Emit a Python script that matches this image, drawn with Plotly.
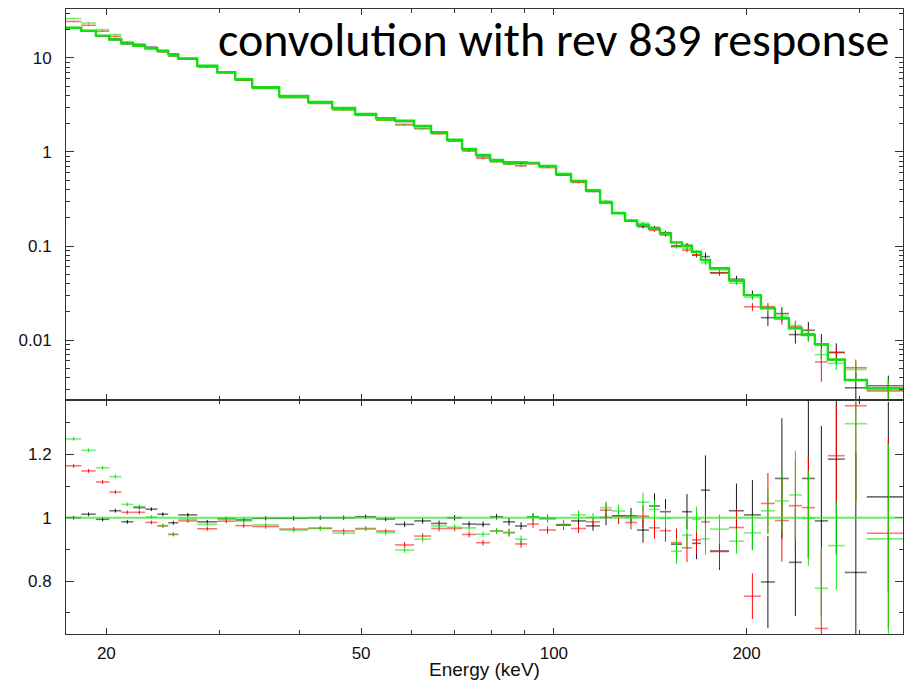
import numpy as np
import plotly.graph_objects as go
from plotly.subplots import make_subplots

# ---------------- data ----------------
bin_edges_kev = [17.30, 18.28, 19.26, 20.22, 21.11, 22.04, 23.01, 24.03, 24.99, 25.91,
                 27.74, 29.81, 31.80, 33.80, 37.24, 41.34, 45.07, 48.93, 52.78, 56.51,
                 60.50, 64.31, 68.12, 71.89, 75.60, 79.50, 83.30, 86.98, 90.81, 94.82,
                 100.79, 106.37, 112.26, 118.06, 123.27, 129.16, 134.85, 140.80, 146.49, 152.39,
                 158.53, 164.33, 169.73, 175.31, 187.75, 198.07, 210.56, 221.42, 232.84, 243.98,
                 255.66, 267.88, 284.72, 308.22, 359.7]

model_counts = [21.0, 19.4, 17.3, 15.7, 14.3, 13.5, 12.7, 11.9, 11.0, 9.84,
                8.28, 7.04, 5.93, 4.88, 3.94, 3.40, 2.94, 2.54, 2.28, 2.15,
                1.89, 1.62, 1.35, 1.08, 0.929, 0.822, 0.78, 0.775, 0.765, 0.71,
                0.583, 0.491, 0.39, 0.29, 0.223, 0.186, 0.167, 0.152, 0.136, 0.109,
                0.100, 0.087, 0.071, 0.058, 0.0434, 0.030, 0.0217, 0.017, 0.0133, 0.0113,
                0.009, 0.0062, 0.00375, 0.00306]

ratio_black = [1.000, 1.011, 0.995, 1.022, 0.987, 1.032, 1.027, 1.011, 0.984, 1.009,
               0.987, 0.997, 0.993, 0.998, 0.998, 1.000, 1.000, 1.003, 0.996, 0.979,
               0.990, 0.982, 1.000, 0.980, 0.979, 1.003, 0.987, 0.974, 1.003, 0.998,
               0.977, 0.990, 0.974, 1.001, 1.006, 1.006, 0.961, 1.037, 1.019, 0.916,
               1.019, 0.919, 1.087, 0.895, 1.022, 1.009, 0.797, 1.124, 0.859, 1.124,
               0.990, 1.185, 0.827, 1.066]
ratio_red = [1.164, 1.148, 1.113, 1.081, 1.017, 1.017, 0.985, 0.974, 0.947, 0.990,
             0.965, 0.989, 0.975, 0.972, 0.964, 0.967, 0.958, 0.966, 0.958, 0.914,
             0.942, 0.966, 0.966, 0.947, 0.921, 0.958, 0.953, 0.917, 0.980, 0.961,
             0.977, 0.966, 0.987, 1.024, 1.006, 0.985, 1.005, 0.968, 0.959, 0.921,
             0.905, 0.930, 0.987, 0.893, 0.969, 0.752, 1.045, 0.991, 1.038, 1.032,
             0.650, 1.196, 1.354, 0.951]
ratio_green = [1.249, 1.213, 1.158, 1.130, 1.042, 1.035, 1.002, 0.975, 0.948, 0.995,
               0.979, 0.997, 0.990, 0.977, 0.961, 0.966, 0.951, 0.964, 0.953, 0.898,
               0.932, 0.974, 0.970, 0.968, 0.948, 0.958, 0.953, 0.932, 1.003, 0.996,
               0.979, 1.009, 1.001, 1.032, 1.021, 1.001, 1.049, 1.026, 0.998, 0.894,
               0.945, 0.995, 0.933, 0.964, 0.926, 0.952, 1.022, 1.053, 1.072, 0.998,
               0.777, 0.912, 1.297, 0.933]

err_black = [0.006] * 12 + [0.007] * 7 + [0.009] * 7 + [0.012] * 4 + [0.015] * 3 + [0.025] * 3 + \
            [0.04, 0.04, 0.04, 0.045, 0.056, 0.05, 0.11, 0.06, 0.086, 0.11, 0.146, 0.19, 0.17, 0.25,
             0.3, 0.3, 0.38, 0.3]
err_red = [0.006] * 12 + [0.007] * 7 + [0.009] * 7 + [0.012] * 4 + [0.015] * 3 + [0.022] * 3 + \
          [0.035, 0.035, 0.035, 0.045, 0.045, 0.045, 0.07, 0.05, 0.06, 0.072, 0.096, 0.13, 0.145, 0.16,
           0.25, 0.16, 0.3, 0.3]
err_green = [0.006] * 12 + [0.007] * 7 + [0.009] * 7 + [0.012] * 4 + [0.014] * 3 + [0.02] * 3 + \
            [0.03, 0.03, 0.03, 0.04, 0.04, 0.04, 0.05, 0.046, 0.04, 0.055, 0.07, 0.1, 0.14, 0.15,
             0.13, 0.14, 0.25, 0.3]

x_tick_vals = [20, 50, 100, 200]
x_tick_text = ["20", "50", "100", "200"]
x_minor_vals = [30, 40, 60, 70, 80, 90, 300]
y_top_tick_vals = [0.01, 0.1, 1, 10]
y_top_tick_text = ["0.01", "0.1", "1", "10"]
y_bot_tick_vals = [0.8, 1.0, 1.2]
y_bot_tick_text = ["0.8", "1", "1.2"]
y_bot_minor_vals = [0.7, 0.9, 1.1, 1.3]
title_text = "convolution with rev 839 response"

# ---------------- figure ----------------
lo = np.array(bin_edges_kev[:-1])
hi = np.array(bin_edges_kev[1:])
ctr = np.sqrt(lo * hi)
m = np.array(model_counts)

fig = make_subplots(rows=2, cols=1, shared_xaxes=True, vertical_spacing=0,
                    row_heights=[391 / 625, 234 / 625])

sets = [
    (ratio_black, err_black, "rgba(0,0,0,0.9)", "rgba(0,0,0,0.55)"),
    (ratio_red, err_red, "rgba(255,0,0,0.95)", "rgba(255,0,0,0.55)"),
    (ratio_green, err_green, "rgba(0,230,0,0.95)", "rgba(0,230,0,0.55)"),
]
for r, e, cv, ch in sets:
    r = np.array(r)
    e = np.array(e)
    for row, yv, ye in [(1, m * r, m * e), (2, r, e)]:
        fig.add_trace(go.Scatter(
            x=ctr, y=yv, mode="markers",
            marker=dict(size=1, color=cv),
            error_x=dict(type="data", symmetric=False, array=hi - ctr, arrayminus=ctr - lo,
                         color=ch, thickness=1.6, width=0),
            error_y=dict(type="data", array=ye, color=cv, thickness=1, width=0),
            showlegend=False, hoverinfo="skip"), row=row, col=1)

step_y = model_counts + [model_counts[-1]]
for col, w in [("rgba(0,0,0,0.8)", 1.2), ("rgba(255,0,0,0.8)", 1.2), ("#10e010", 2.4)]:
    fig.add_trace(go.Scatter(x=bin_edges_kev, y=step_y, mode="lines",
                             line=dict(color=col, width=w, shape="hv"),
                             showlegend=False, hoverinfo="skip"), row=1, col=1)

fig.add_hline(y=1, line=dict(color="rgba(40,230,40,0.7)", width=2), row=2, col=1)

axis_common = dict(showline=True, linecolor="#333", linewidth=1, mirror="ticks",
                   ticks="inside", tickcolor="#333", showgrid=False, zeroline=False,
                   tickfont=dict(family="Liberation Sans, Arial", size=17, color="#111"))

xr = [np.log10(17.3), np.log10(351)]
fig.update_xaxes(type="log", range=xr, tickmode="array", tickvals=x_tick_vals,
                 ticktext=x_tick_text, ticklen=6,
                 minor=dict(tickmode="array", tickvals=x_minor_vals, ticklen=4, ticks="inside",
                            tickcolor="#333"),
                 **axis_common)
fig.update_xaxes(showticklabels=False, row=1, col=1)
fig.update_xaxes(showticklabels=True, ticklabelstandoff=4,
                 title=dict(text="Energy (keV)", standoff=2,
                            font=dict(family="Liberation Sans, Arial", size=19, color="#111")),
                 row=2, col=1)

top_minor = [k * 10.0 ** p for p in range(-3, 2) for k in range(2, 10)]
fig.update_yaxes(type="log", range=[-2.638, 1.521], tickmode="array",
                 tickvals=y_top_tick_vals, ticktext=y_top_tick_text, ticklen=8,
                 ticklabelstandoff=10,
                 minor=dict(tickmode="array", tickvals=top_minor, ticklen=4, ticks="inside",
                            tickcolor="#333"),
                 row=1, col=1, **axis_common)
fig.update_yaxes(range=[0.6325, 1.372], tickmode="array", tickvals=y_bot_tick_vals,
                 ticktext=y_bot_tick_text, ticklen=8, ticklabelstandoff=10,
                 minor=dict(tickmode="array", tickvals=y_bot_minor_vals, ticklen=4,
                            ticks="inside", tickcolor="#333"),
                 row=2, col=1, **axis_common)

fig.add_annotation(text=title_text, xref="paper", yref="paper", x=0.986, y=0.951,
                   xanchor="right", yanchor="middle", showarrow=False,
                   font=dict(family="Carlito, Lato, sans-serif", size=48, color="#000"))

fig.update_layout(width=904, height=680, margin=dict(l=66, r=1, t=9, b=46),
                  paper_bgcolor="white", plot_bgcolor="white")

fig.write_html("out.html")
